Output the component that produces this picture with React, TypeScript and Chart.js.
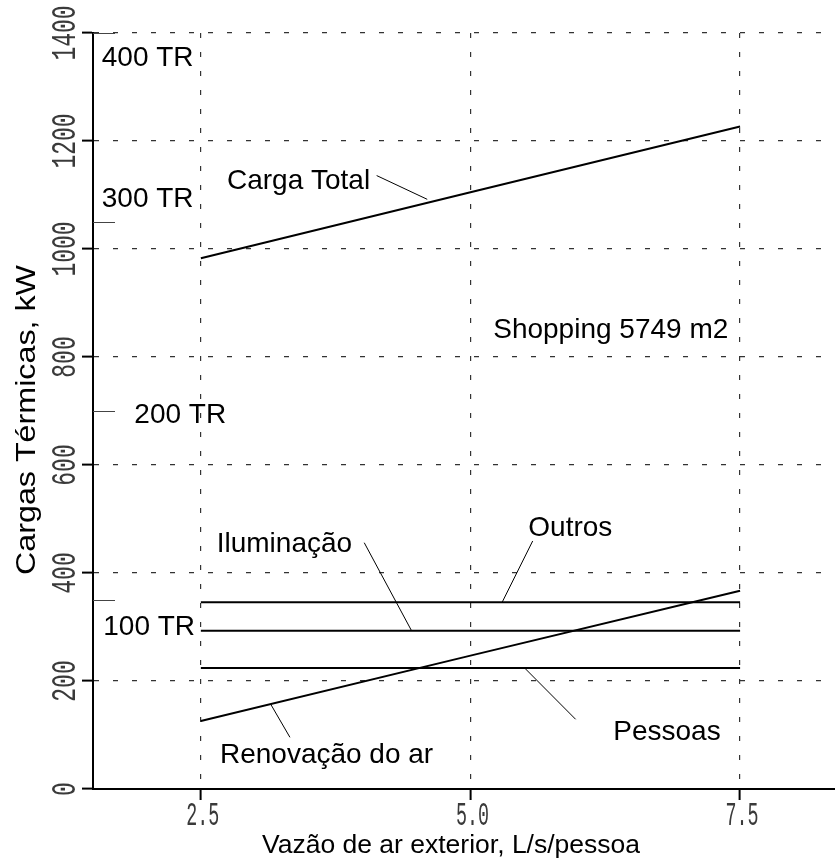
import React, { useEffect, useRef } from "react";
import { Chart, registerables } from "chart.js";

Chart.register(...registerables);

// ---- data ----
const xValues = [2.5, 5.0, 7.5];
const cargaTotal = [983, 1105, 1227];
const outros = [346, 346, 346];
const iluminacao = [293, 293, 293];
const pessoas = [224, 224, 224];
const renovacao = [126, 247, 367];

const seriesNames = ["Carga Total", "Outros", "Iluminação", "Pessoas", "Renovação do ar"];
const seriesValues = [cargaTotal, outros, iluminacao, pessoas, renovacao];

const xTicks = [2.5, 5.0, 7.5];
const yTicks = [0, 200, 400, 600, 800, 1000, 1200, 1400];
const trValues = [100, 200, 300, 400];
const KW_PER_TR = 3.5;

const xTitle = "Vazão de ar exterior, L/s/pessoa";
const yTitle = "Cargas Térmicas, kW";
const noteText = "Shopping 5749 m2";

// ---- label placement (data units) ----
const seriesLabelPos = [
  { x: 2.742, y: 1111, from: [4.13, 1136], to: [4.599, 1092] },
  { x: 5.536, y: 468.5, from: [5.577, 459.3], to: [5.295, 346.3] },
  { x: 2.647, y: 438.3, from: [4.015, 456.1], to: [4.455, 292.6] },
  { x: 6.324, y: 90.7, from: [5.505, 223.5], to: [5.975, 129.1] },
  { x: 2.677, y: 48.7, from: [3.148, 156.9], to: [3.326, 95.7] },
];
const notePos = { x: 5.211, y: 834.6 };
const trLabelPos = [
  { x: 1.595, y: 284.6 },
  { x: 1.883, y: 678.3 },
  { x: 1.581, y: 1078.3 },
  { x: 1.581, y: 1339.4 },
];

const SANS = '"Liberation Sans", Arial, sans-serif';
const MONO = '"Liberation Mono", "DejaVu Sans Mono", monospace';

const overlayPlugin = {
  id: "overlay",
  afterDraw(chart: any) {
    const ctx = chart.ctx as CanvasRenderingContext2D;
    const xs = chart.scales.x;
    const ys = chart.scales.y;
    const area = chart.chartArea;
    const px = (v: number) => xs.getPixelForValue(v);
    const py = (v: number) => ys.getPixelForValue(v);

    ctx.save();

    // y tick labels (rotated, reading upwards)
    ctx.fillStyle = "#3a3a3a";
    ctx.font = "35px " + MONO;
    for (const t of ys.ticks) {
      const y = py(t.value);
      ctx.save();
      ctx.translate(75, y);
      ctx.rotate(-Math.PI / 2);
      const label = String(t.value);
      const w = ctx.measureText(label).width;
      const target = label.length * 13.8;
      ctx.scale(target / w, 1);
      ctx.textAlign = "center";
      ctx.textBaseline = "alphabetic";
      ctx.fillText(label, 0, 0);
      ctx.restore();
    }

    // x tick labels
    ctx.font = "33px " + MONO;
    for (const t of xs.ticks) {
      const x = px(t.value);
      ctx.save();
      ctx.translate(x + 2, 825);
      const label = Number(t.value).toFixed(1);
      const w = ctx.measureText(label).width;
      ctx.scale(33 / w, 1);
      ctx.textAlign = "center";
      ctx.textBaseline = "alphabetic";
      ctx.fillText(label, 0, 0);
      ctx.restore();
    }

    ctx.fillStyle = "#000";
    // axis titles
    ctx.font = "26.5px " + SANS;
    ctx.textAlign = "center";
    ctx.textBaseline = "alphabetic";
    ctx.fillText(xTitle, 451, 853);

    ctx.save();
    ctx.font = "28px " + SANS;
    ctx.translate(35, 420);
    ctx.rotate(-Math.PI / 2);
    const yw = ctx.measureText(yTitle).width;
    ctx.scale(310 / yw, 1);
    ctx.fillText(yTitle, 0, 0);
    ctx.restore();

    // TR secondary ticks
    ctx.strokeStyle = "#444";
    ctx.lineWidth = 1;
    trValues.forEach((tr) => {
      const y = Math.round(py(tr * KW_PER_TR)) + 0.5;
      ctx.beginPath();
      ctx.moveTo(area.left, y);
      ctx.lineTo(area.left + 22, y);
      ctx.stroke();
    });
    ctx.font = "28px " + SANS;
    ctx.textAlign = "left";
    trValues.forEach((tr, i) => {
      const p = trLabelPos[i];
      ctx.fillText(tr + " TR", px(p.x), py(p.y));
    });

    // series labels with leader lines
    ctx.strokeStyle = "#000";
    ctx.lineWidth = 1;
    seriesNames.forEach((name, i) => {
      const p = seriesLabelPos[i];
      ctx.fillText(name, px(p.x), py(p.y));
      ctx.beginPath();
      ctx.moveTo(px(p.from[0]), py(p.from[1]));
      ctx.lineTo(px(p.to[0]), py(p.to[1]));
      ctx.stroke();
    });

    ctx.fillText(noteText, px(notePos.x), py(notePos.y));
    ctx.restore();
  },
};

export default function App() {
  const ref = useRef<HTMLCanvasElement | null>(null);

  useEffect(() => {
    if (!ref.current) return;
    const datasets = seriesNames.map((name, i) => ({
      label: name,
      data: xValues.map((x, j) => ({ x, y: seriesValues[i][j] })),
      borderColor: "#000",
      borderWidth: 2,
      pointRadius: 0,
      tension: 0,
      fill: false,
    }));

    const gridCommon = {
      color: "#333",
      lineWidth: 1.2,
      drawTicks: true,
      tickLength: 11,
      tickColor: "#000",
      tickWidth: 2,
      tickBorderDash: [],
    };

    const chart = new Chart(ref.current, {
      type: "line",
      data: { datasets },
      options: {
        animation: false,
        responsive: false,
        devicePixelRatio: 1,
        layout: { padding: { left: 93, top: 33, right: 0, bottom: 74 } },
        plugins: { legend: { display: false }, tooltip: { enabled: false } },
        scales: {
          x: {
            type: "linear",
            min: 1.5,
            max: 8.38,
            afterBuildTicks: (s: any) => {
              s.ticks = xTicks.map((v) => ({ value: v }));
            },
            afterFit: (s: any) => {
              s.height = 0;
            },
            ticks: { display: false },
            grid: gridCommon,
            border: { display: true, color: "#000", width: 2, dash: [5, 14] },
          },
          y: {
            type: "linear",
            min: 0,
            max: 1400,
            afterBuildTicks: (s: any) => {
              s.ticks = yTicks.map((v) => ({ value: v }));
            },
            afterFit: (s: any) => {
              s.width = 0;
            },
            ticks: { display: false },
            grid: gridCommon,
            border: { display: true, color: "#000", width: 2, dash: [5, 14] },
          },
        },
      } as any,
      plugins: [overlayPlugin],
    });
    return () => chart.destroy();
  }, []);

  return (
    <div style={{ position: "fixed", left: 0, top: 0, width: 835, height: 863, background: "#fff" }}>
      <canvas ref={ref} width={835} height={863} style={{ width: 835, height: 863, display: "block" }} />
    </div>
  );
}
